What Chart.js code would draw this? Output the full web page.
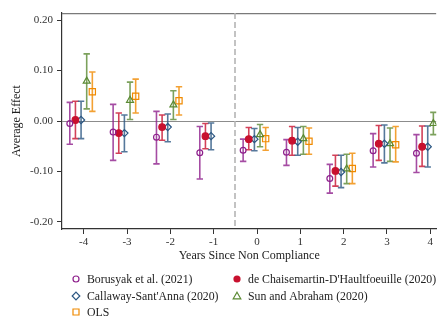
<!DOCTYPE html>
<html>
<head>
<meta charset="utf-8">
<title>Event study</title>
<script src="https://cdn.jsdelivr.net/npm/chart.js@4.4.1/dist/chart.umd.min.js"></script>
<style>
    html, body { margin: 0; padding: 0; background: #fff; }
    #wrap { width: 442px; height: 316px; }
</style>
</head>
<body>
<div id="wrap"><canvas id="effectChart" width="442" height="316"></canvas></div>
<script>
/* DATA */

const years = [-4, -3, -2, -1, 0, 1, 2, 3, 4];
const yTicks = [-0.2, -0.1, 0, 0.1, 0.2];

const seriesNames = [
    'Borusyak et al. (2021)',
    "de Chaisemartin-D'Haultfoeuille (2020)",
    "Callaway-Sant'Anna (2020)",
    'Sun and Abraham (2020)',
    'OLS'
];

// point estimates
const borusyakEst = [-0.005, -0.022, -0.032, -0.063, -0.058, -0.062, -0.114, -0.059, -0.064];
const chaiseEst   = [0.002, -0.024, -0.012, -0.030, -0.036, -0.039, -0.099, -0.045, -0.051];
const callawayEst = [0.002, -0.024, -0.012, -0.030, -0.036, -0.041, -0.101, -0.045, -0.051];
const sunEst      = [0.079, 0.041, 0.032, null, -0.027, -0.035, -0.095, -0.045, -0.005];
const olsEst      = [0.058, 0.049, 0.040, null, -0.035, -0.040, -0.094, -0.047, null];

// lower CI
const borusyakLo = [-0.046, -0.078, -0.085, -0.115, -0.080, -0.088, -0.143, -0.091, -0.102];
const chaiseLo   = [-0.035, -0.064, -0.038, -0.055, -0.057, -0.068, -0.129, -0.078, -0.090];
const callawayLo = [-0.035, -0.061, -0.041, -0.057, -0.059, -0.068, -0.132, -0.083, -0.091];
const sunLo      = [0.024, 0.003, 0.003, null, -0.051, -0.066, -0.124, -0.080, -0.027];
const olsLo      = [0.019, 0.016, 0.012, null, -0.058, -0.066, -0.124, -0.081, null];

// upper CI
const borusyakHi = [0.037, 0.033, 0.019, -0.011, -0.036, -0.037, -0.086, -0.025, -0.027];
const chaiseHi   = [0.039, 0.016, 0.012, -0.005, -0.013, -0.011, -0.068, -0.009, -0.010];
const callawayHi = [0.039, 0.012, 0.014, -0.004, -0.015, -0.013, -0.068, -0.008, -0.010];
const sunHi      = [0.133, 0.077, 0.060, null, -0.007, -0.011, -0.066, -0.014, 0.017];
const olsHi      = [0.097, 0.083, 0.068, null, -0.013, -0.014, -0.064, -0.011, null];


/* STYLE (warna, marker, geser posisi x) */

const serif = '"Liberation Serif", "Times New Roman", serif';

const seriesStyle = [
    { color: '#8e1f8c', marker: 'circle',   filled: false, size: 2.9, shift: -0.32 },
    { color: '#c8102e', marker: 'circle',   filled: true,  size: 3.3, shift: -0.19 },
    { color: '#2b5682', marker: 'rectRot',  filled: false, size: 3.6, shift: -0.06 },
    { color: '#5b8a33', marker: 'triangle', filled: false, size: 4.0, shift: 0.07 },
    { color: '#f08a00', marker: 'rect',     filled: false, size: 4.4, shift: 0.20 }
];

const estimates = [borusyakEst, chaiseEst, callawayEst, sunEst, olsEst];
const lows = [borusyakLo, chaiseLo, callawayLo, sunLo, olsLo];
const highs = [borusyakHi, chaiseHi, callawayHi, sunHi, olsHi];

function withAlpha(hex, a) {
    const n = parseInt(hex.slice(1), 16);
    return `rgba(${n >> 16}, ${(n >> 8) & 255}, ${n & 255}, ${a})`;
}

// build datasets dari array di atas
const datasets = seriesNames.map((name, i) => {
    const st = seriesStyle[i];
    const points = [];
    years.forEach((yr, k) => {
        if (estimates[i][k] === null) return;
        points.push({ x: yr + st.shift, y: estimates[i][k], lo: lows[i][k], hi: highs[i][k] });
    });
    return {
        label: name,
        data: points,
        pointStyle: st.marker,
        pointRadius: st.size,
        pointHoverRadius: st.size,
        pointBorderWidth: 1.2,
        borderColor: st.color,
        backgroundColor: st.filled ? st.color : 'rgba(255,255,255,0)',
        showLine: false,
        barColor: withAlpha(st.color, 0.8)
    };
});


/* PLUGINS */

// garis nol, garis putus-putus, garis atas, error bar
const backdropAndBars = {
    id: 'backdropAndBars',
    beforeDatasetsDraw(chart) {
        const { ctx, chartArea: a, scales: { x, y } } = chart;
        ctx.save();
        ctx.beginPath();
        ctx.rect(a.left, a.top, a.right - a.left, a.bottom - a.top);
        ctx.clip();

        // top border
        ctx.strokeStyle = '#7a7a7a';
        ctx.lineWidth = 1.5;
        ctx.beginPath();
        ctx.moveTo(a.left, a.top + 0.5);
        ctx.lineTo(a.right, a.top + 0.5);
        ctx.stroke();

        // zero line
        const y0 = Math.round(y.getPixelForValue(0)) + 0.5;
        ctx.strokeStyle = '#8c8c8c';
        ctx.lineWidth = 1;
        ctx.beginPath();
        ctx.moveTo(a.left, y0);
        ctx.lineTo(a.right, y0);
        ctx.stroke();

        // treatment line at -0.5
        const xd = Math.round(x.getPixelForValue(-0.5));
        ctx.strokeStyle = '#b4b4b4';
        ctx.lineWidth = 1.6;
        ctx.setLineDash([6, 3]);
        ctx.beginPath();
        ctx.moveTo(xd, a.top);
        ctx.lineTo(xd, a.bottom);
        ctx.stroke();
        ctx.setLineDash([]);

        // error bars
        chart.data.datasets.forEach(ds => {
            ctx.strokeStyle = ds.barColor;
            ctx.lineWidth = 1.6;
            ds.data.forEach(pt => {
                if (pt.lo == null) return;
                const px = x.getPixelForValue(pt.x);
                const pLo = y.getPixelForValue(pt.lo);
                const pHi = y.getPixelForValue(pt.hi);
                ctx.beginPath();
                ctx.moveTo(px, pLo);
                ctx.lineTo(px, pHi);
                ctx.moveTo(px - 3.2, pLo);
                ctx.lineTo(px + 3.2, pLo);
                ctx.moveTo(px - 3.2, pHi);
                ctx.lineTo(px + 3.2, pHi);
                ctx.stroke();
            });
        });
        ctx.restore();
    }
};

function drawMarker(ctx, st, cx, cy) {
    ctx.save();
    ctx.strokeStyle = st.color;
    ctx.fillStyle = st.color;
    ctx.lineWidth = 1.2;
    ctx.beginPath();
    if (st.marker === 'circle') {
        ctx.arc(cx, cy, st.filled ? 3.6 : 3, 0, Math.PI * 2);
    } else if (st.marker === 'rectRot') {
        ctx.moveTo(cx, cy - 3.8); ctx.lineTo(cx + 3.8, cy);
        ctx.lineTo(cx, cy + 3.8); ctx.lineTo(cx - 3.8, cy); ctx.closePath();
    } else if (st.marker === 'triangle') {
        ctx.moveTo(cx, cy - 3.8); ctx.lineTo(cx + 3.8, cy + 2.8);
        ctx.lineTo(cx - 3.8, cy + 2.8); ctx.closePath();
    } else {
        ctx.rect(cx - 3, cy - 3, 6, 6);
    }
    if (st.filled) ctx.fill(); else ctx.stroke();
    ctx.restore();
}

// legend 2 kolom di bawah
const bottomLegend = {
    id: 'bottomLegend',
    afterDraw(chart) {
        const ctx = chart.ctx;
        const cols = [76, 237];
        const rows = [279, 296, 312];
        ctx.save();
        ctx.font = `11.8px ${serif}`;
        ctx.fillStyle = '#222';
        ctx.textBaseline = 'middle';
        seriesNames.forEach((name, i) => {
            const cx = cols[i % 2];
            const cy = rows[Math.floor(i / 2)];
            drawMarker(ctx, seriesStyle[i], cx, cy);
            ctx.fillText(name, cx + 11, cy + 0.5);
        });
        ctx.restore();
    }
};


/* CHART */

document.addEventListener('DOMContentLoaded', () => {
    const ctx = document.getElementById('effectChart');

    new Chart(ctx, {
        type: 'scatter',
        data: { datasets: datasets },
        options: {
            responsive: false,
            animation: false,
            layout: { padding: { top: 13, right: 0, bottom: 53, left: 0 } },
            plugins: {
                legend: { display: false },
                tooltip: { enabled: false }
            },
            scales: {
                x: {
                    type: 'linear',
                    min: -4.5,
                    max: 4.14,
                    afterBuildTicks: s => { s.ticks = years.map(v => ({ value: v })); },
                    afterFit: s => { s.height = 34; },
                    ticks: {
                        font: { family: serif, size: 11 },
                        color: '#333',
                        padding: 2,
                        callback: v => String(v)
                    },
                    grid: { drawOnChartArea: false, drawTicks: true, tickLength: 5, color: '#333' },
                    border: { display: true, color: '#333', width: 1.2 },
                    title: {
                        display: true,
                        text: 'Years Since Non Compliance',
                        font: { family: serif, size: 12 },
                        color: '#222',
                        padding: { top: 0, bottom: 0 }
                    }
                },
                y: {
                    min: -0.214,
                    max: 0.214,
                    afterBuildTicks: s => { s.ticks = yTicks.map(v => ({ value: v })); },
                    afterFit: s => { s.width = 62; },
                    ticks: {
                        font: { family: serif, size: 11 },
                        color: '#333',
                        padding: 4,
                        callback: v => v.toFixed(2)
                    },
                    grid: { drawOnChartArea: false, drawTicks: true, tickLength: 5, color: '#333' },
                    border: { display: true, color: '#333', width: 1.2 },
                    title: {
                        display: true,
                        text: 'Average Effect',
                        font: { family: serif, size: 12 },
                        color: '#222',
                        padding: { top: 10, bottom: 0 }
                    }
                }
            }
        },
        plugins: [backdropAndBars, bottomLegend]
    });
});
</script>
</body>
</html>
